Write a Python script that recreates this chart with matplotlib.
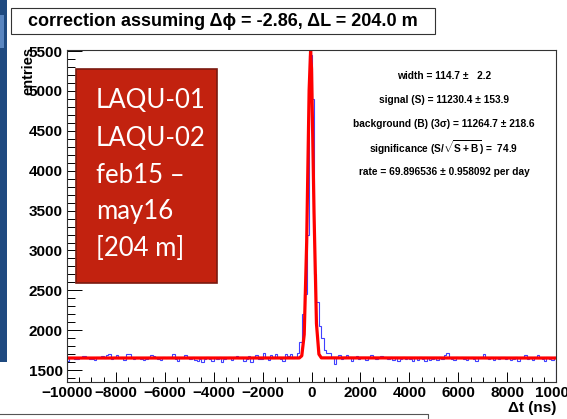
import numpy as np
import matplotlib
matplotlib.use("Agg")
import matplotlib.pyplot as plt
from matplotlib.patches import Rectangle

plt.rcParams['font.family'] = ['Liberation Sans', 'DejaVu Sans']
plt.rcParams['mathtext.fontset'] = 'custom'
plt.rcParams['mathtext.rm'] = 'Liberation Sans:bold'
plt.rcParams['mathtext.bf'] = 'Liberation Sans:bold'
plt.rcParams['mathtext.default'] = 'rm'

# histogram: 200 bins of 100 ns from -10000 to 10000
bin_lo = -10000
bin_w = 100
counts = [
    1610, 1660, 1665, 1640, 1640, 1655, 1680, 1680, 1650, 1640,
    1645, 1630, 1665, 1660, 1680, 1650, 1690, 1700, 1640, 1660,
    1690, 1650, 1670, 1630, 1705, 1700, 1660, 1640, 1650, 1655,
    1640, 1625, 1640, 1660, 1690, 1680, 1650, 1640, 1630, 1660,
    1650, 1660, 1670, 1700, 1640, 1620, 1650, 1650, 1690, 1670,
    1645, 1670, 1630, 1610, 1640, 1600, 1640, 1660, 1640, 1620,
    1650, 1640, 1660, 1600, 1640, 1650, 1660, 1630, 1670, 1680,
    1650, 1660, 1620, 1640, 1680, 1600, 1665, 1690, 1640, 1640,
    1710, 1650, 1630, 1690, 1650, 1700, 1660, 1640, 1620, 1700,
    1680, 1700, 1650, 1660, 1720, 1850, 2200, 2450, 3200, 5450,
    4900, 2700, 2350, 2050, 1900, 1750, 1720, 1720, 1660, 1580,
    1650, 1690, 1640, 1650, 1690, 1660, 1620, 1650, 1680, 1640,
    1660, 1670, 1630, 1650, 1690, 1660, 1640, 1650, 1680, 1670,
    1650, 1640, 1660, 1630, 1650, 1620, 1640, 1660, 1640, 1650,
    1640, 1620, 1650, 1630, 1660, 1640, 1620, 1650, 1630, 1640,
    1650, 1630, 1660, 1640, 1690, 1710, 1650, 1640, 1630, 1660,
    1650, 1660, 1640, 1630, 1650, 1660, 1640, 1620, 1650, 1660,
    1700, 1650, 1640, 1660, 1630, 1650, 1640, 1670, 1660, 1640,
    1650, 1630, 1640, 1660, 1620, 1650, 1670, 1690, 1640, 1650,
    1630, 1660, 1690, 1650, 1640, 1620, 1670, 1640, 1630, 1660,
]

# fit curve (gaus + const) points
fit_t = [-10000, -500, -400, -300, -200, -100, -40, 0, 100, 200, 300, 400, 10000]
fit_y = [1652, 1653, 1680, 1947, 3107, 5010, 5502, 5274, 3480, 2083, 1700, 1654, 1652]

stats = [
    "width = 114.7 \u00b1   2.2",
    "signal (S) = 11230.4 \u00b1 153.9",
    "background (B) (3\u03c3) = 11264.7 \u00b1 218.6",
    r"significance (S/$\sqrt{S+B}$) =  74.9",
    "rate = 69.896536 \u00b1 0.958092 per day",
]
box_lines = ["LAQU-01", "LAQU-02", "feb15 \u2013", "may16", "[204 m]"]

fig = plt.figure(figsize=(5.67, 4.19), dpi=100)
ax = fig.add_axes([0.118, 0.088, 0.863, 0.793])

edges = np.arange(len(counts) + 1) * bin_w + bin_lo
ax.stairs(counts, edges, color='#4040ff', lw=0.8)
ax.plot(fit_t, fit_y, color='#ff0000', lw=2.3, solid_joinstyle='round')

ax.set_xlim(-10000, 10000)
ax.set_ylim(1350, 5515)
ax.set_xticks(np.arange(-10000, 10001, 2000))
ax.set_xticks(np.arange(-10000, 10001, 500), minor=True)
ax.set_yticks(np.arange(1500, 5501, 500))
ax.set_yticks(np.arange(1400, 5501, 100), minor=True)
ax.tick_params(axis='both', which='both', direction='in', top=False, right=False,
               labelsize=11, width=0.7)
ax.tick_params(axis='y', which='major', length=10.8, pad=3)
ax.tick_params(axis='y', which='minor', length=5.4)
ax.tick_params(axis='x', which='major', length=7.2, pad=2.5)
ax.tick_params(axis='x', which='minor', length=3.6)
for lab in ax.get_xticklabels() + ax.get_yticklabels():
    lab.set_fontweight('bold')
for s in ax.spines.values():
    s.set_color('#333333')
    s.set_linewidth(0.8)

fig.text(0.981, 0.026, "\u0394t (ns)", ha='right', va='center', fontsize=11, fontweight='bold')
fig.text(0.05, 0.888, "entries", rotation=90, ha='center', va='top', fontsize=10.5, fontweight='bold')

# statistics text
for i, s in enumerate(stats):
    fig.text(0.783, 1 - (76 + i * 24) / 419, s, ha='center', va='center', fontsize=7.3, fontweight='bold')

# title pave
fig.patches.append(Rectangle((11 / 567, 1 - 34 / 419), 424 / 567, 26 / 419, transform=fig.transFigure,
                             facecolor='white', edgecolor='#333333', lw=0.8))
fig.text(223 / 567, 1 - 21 / 419, "correction assuming \u0394\u03d5 = -2.86, \u0394L = 204.0 m",
         ha='center', va='center', fontsize=13, fontweight='bold')

# red label box on top
fig.patches.append(Rectangle((76 / 567, 1 - 283 / 419), 141 / 567, 214 / 419, transform=fig.transFigure,
                             facecolor='#c2220f', edgecolor='#7a1a10', lw=1.2, zorder=5))
for i, s in enumerate(box_lines):
    fig.text(96 / 567, 1 - (101 + i * 37) / 419, s, ha='left', va='center', fontsize=18.5,
             color='white', family=['Lato', 'DejaVu Sans'], zorder=6)

# slide remnants around the screenshot
fig.patches.append(Rectangle((0, 1 - 362 / 419), 7 / 567, 362 / 419, transform=fig.transFigure,
                             facecolor='#1f4a80', edgecolor='none'))
fig.patches.append(Rectangle((0, 1 - 48 / 419), 4 / 567, 33 / 419, transform=fig.transFigure,
                             facecolor='#5a86c0', edgecolor='none'))
fig.add_artist(plt.Line2D([0, 428 / 567, 428 / 567], [1 - 414 / 419, 1 - 414 / 419, 0],
                          transform=fig.transFigure, color='#555555', lw=0.8))

fig.savefig("out.png", dpi=100)
